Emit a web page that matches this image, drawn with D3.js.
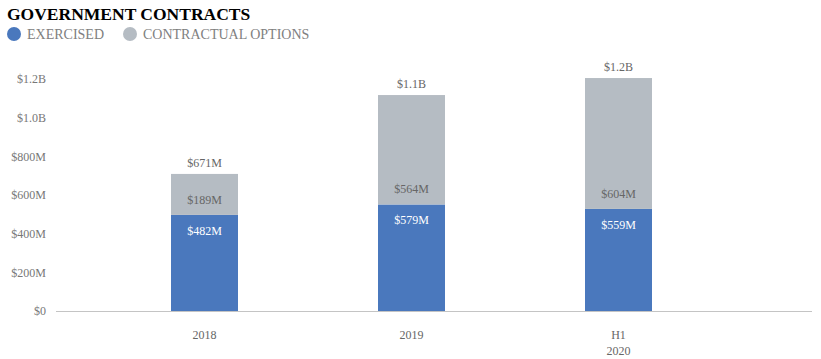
<!DOCTYPE html>
<html><head><meta charset="utf-8">
<script src="https://cdn.jsdelivr.net/npm/d3@7"></script>
<style>body{margin:0;background:#fff}svg{display:block}svg text{font-family:"Liberation Serif","Times New Roman",serif}</style>
</head><body>
<script>
const categories = [["2018"], ["2019"], ["H1", "2020"]];
const exercised = [497, 551, 528];          // bar heights as drawn ($M)
const options = [212, 566, 677];            // bar heights as drawn ($M)
const exercisedLabels = ["$482M", "$579M", "$559M"];
const optionLabels = ["$189M", "$564M", "$604M"];
const totalLabels = ["$671M", "$1.1B", "$1.2B"];
const yTicks = [0, 200, 400, 600, 800, 1000, 1200];
const yTickLabels = ["$0", "$200M", "$400M", "$600M", "$800M", "$1.0B", "$1.2B"];
const seriesNames = ["EXERCISED", "CONTRACTUAL OPTIONS"];
const colors = ["#4a78bd", "#b5bcc3"];

const W = 821, H = 359;
const font = "Liberation Serif";
const svg = d3.select("body").append("svg").attr("width", W).attr("height", H)
  .attr("font-family", font);

svg.append("text").attr("x", 7).attr("y", 20).attr("font-size", 17.5).attr("font-weight", "bold")
  .attr("fill", "#000").text("GOVERNMENT CONTRACTS");

const legX = [14, 130];
seriesNames.forEach((n, i) => {
  svg.append("circle").attr("cx", legX[i]).attr("cy", 34).attr("r", 7).attr("fill", colors[i]);
  svg.append("text").attr("x", legX[i] + 13).attr("y", 39).attr("font-size", 14)
    .attr("fill", "#808080").text(n);
});

const y = d3.scaleLinear().domain([0, 1200]).range([311, 79]);
const x = d3.scalePoint().domain(categories.map((c, i) => i)).range([101, 722]).padding(0.5);
const bw = 67;

// y tick labels
const yAxis = d3.axisLeft(y).tickValues(yTicks).tickSize(0).tickPadding(0)
  .tickFormat((d, i) => yTickLabels[i]);
const ya = svg.append("g").attr("transform", "translate(46,0)").call(yAxis);
ya.attr("font-family", font);
ya.select(".domain").remove();
ya.selectAll("text").attr("font-size", 12).attr("fill", "#777").attr("font-family", font);

// bars
const g = svg.append("g");
categories.forEach((c, i) => {
  const cx = x(i);
  g.append("rect").attr("x", cx - bw / 2).attr("width", bw)
    .attr("y", y(exercised[i])).attr("height", y(0) - y(exercised[i])).attr("fill", colors[0]);
  g.append("rect").attr("x", cx - bw / 2).attr("width", bw)
    .attr("y", y(exercised[i] + options[i])).attr("height", y(exercised[i]) - y(exercised[i] + options[i]))
    .attr("fill", colors[1]);
  g.append("text").attr("x", cx).attr("y", y(exercised[i]) + 20).attr("text-anchor", "middle")
    .attr("font-size", 12).attr("fill", "#fff").text(exercisedLabels[i]);
  g.append("text").attr("x", cx).attr("y", y(exercised[i]) - 11).attr("text-anchor", "middle")
    .attr("font-size", 12).attr("fill", "#666").text(optionLabels[i]);
  g.append("text").attr("x", cx).attr("y", y(exercised[i] + options[i]) - 7).attr("text-anchor", "middle")
    .attr("font-size", 12).attr("fill", "#666").text(totalLabels[i]);
  c.forEach((line, j) => {
    g.append("text").attr("x", cx).attr("y", 339 + j * 16).attr("text-anchor", "middle")
      .attr("font-size", 12).attr("fill", "#666").text(line);
  });
});

// baseline
svg.append("line").attr("x1", 56).attr("x2", 812).attr("y1", y(0) + 0.5).attr("y2", y(0) + 0.5)
  .attr("stroke", "#c4c4c4").attr("stroke-width", 1.2);
</script>
</body></html>
